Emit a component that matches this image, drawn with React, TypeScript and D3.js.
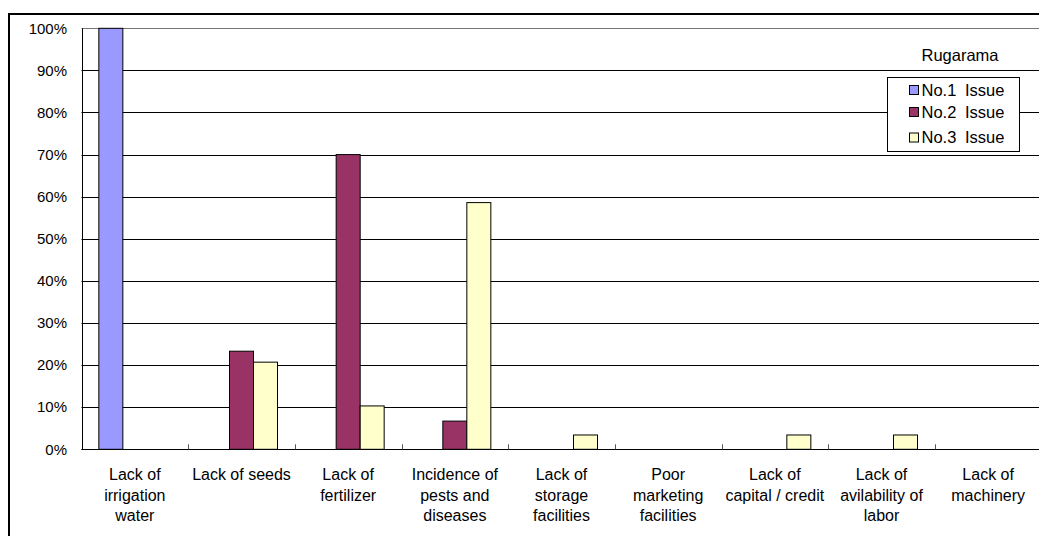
import React from "react";
import * as d3 from "d3";

const categories: string[][] = [
  ["Lack of", "irrigation", "water"],
  ["Lack of seeds"],
  ["Lack of", "fertilizer"],
  ["Incidence of", "pests and", "diseases"],
  ["Lack of", "storage", "facilities"],
  ["Poor", "marketing", "facilities"],
  ["Lack of", "capital / credit"],
  ["Lack of", "avilability of", "labor"],
  ["Lack of", "machinery"],
];
const seriesNames = ["No.1 Issue", "No.2 Issue", "No.3 Issue"];
const issue1 = [1.0, 0, 0, 0, 0, 0, 0, 0, 0];
const issue2 = [0, 0.233, 0.7, 0.067, 0, 0, 0, 0, 0];
const issue3 = [0, 0.207, 0.103, 0.586, 0.034, 0, 0.034, 0.034, 0];
const yTicks = [0, 0.1, 0.2, 0.3, 0.4, 0.5, 0.6, 0.7, 0.8, 0.9, 1.0];
const legendTitle = "Rugarama";
const colors = ["#9999FF", "#993366", "#FFFFCC"];

const W = 1039;
const H = 536;
const left = 81.5;
const right = 1041.5;
const top = 28.3;
const bottom = 449.3;
const font = "'Liberation Sans', Arial, sans-serif";

export default function App() {
  const keys = categories.map((_, i) => String(i));
  const x = d3.scaleBand<string>().domain(keys).range([left, right]).padding(0);
  const bw = x.bandwidth();
  const gw = bw * 0.675;
  const x1 = d3
    .scaleBand<string>()
    .domain(seriesNames)
    .range([(bw - gw) / 2, (bw + gw) / 2])
    .padding(0);
  const y = d3.scaleLinear().domain([0, 1]).range([bottom, top]);
  const seriesValues = [issue1, issue2, issue3];
  const fmt = d3.format(".0%");
  const snap = (v: number) => Math.round(v) + 0.5;

  return (
    <svg
      width={W}
      height={H}
      style={{ position: "absolute", left: 0, top: 0, display: "block", background: "#fff" }}
      fontFamily={font}
    >
      <rect x={0} y={0} width={W} height={H} fill="#fff" />
      {/* chart area border */}
      <rect x={9} y={14} width={W + 20} height={H + 20} fill="none" stroke="#000" strokeWidth={2} />
      {/* gridlines */}
      {yTicks.map((t) => (
        <line
          key={"g" + t}
          x1={left}
          x2={right}
          y1={snap(y(t))}
          y2={snap(y(t))}
          stroke={t === 1 ? "#777" : "#000"}
          strokeWidth={1}
        />
      ))}
      {/* y labels */}
      {yTicks.map((t) => (
        <text
          key={"yl" + t}
          x={67}
          y={y(t)}
          dy="0.35em"
          textAnchor="end"
          fontSize={15}
          fill="#000"
        >
          {fmt(t)}
        </text>
      ))}
      {/* bars */}
      {keys.map((k, ci) =>
        seriesNames.map((s, si) => {
          const v = seriesValues[si][ci];
          if (!v) return null;
          const bx = (x(k) as number) + (x1(s) as number);
          return (
            <rect
              key={k + s}
              x={bx}
              y={y(v)}
              width={x1.bandwidth()}
              height={bottom - y(v)}
              fill={colors[si]}
              stroke="#000"
              strokeWidth={1}
            />
          );
        })
      )}
      {/* axes */}
      <line x1={snap(left)} x2={snap(left)} y1={top} y2={bottom} stroke="#000" />
      <line x1={left} x2={right} y1={snap(bottom)} y2={snap(bottom)} stroke="#000" />
      {keys.slice(1).map((k) => (
        <line
          key={"t" + k}
          x1={snap(x(k) as number)}
          x2={snap(x(k) as number)}
          y1={bottom - 5}
          y2={bottom}
          stroke="#555"
        />
      ))}
      {/* x labels */}
      {keys.map((k, ci) => (
        <text
          key={"xl" + k}
          x={(x(k) as number) + bw / 2}
          y={480}
          textAnchor="middle"
          fontSize={16}
          fill="#000"
        >
          {categories[ci].map((line, li) => (
            <tspan key={li} x={(x(k) as number) + bw / 2} dy={li === 0 ? 0 : 20.5}>
              {line}
            </tspan>
          ))}
        </text>
      ))}
      {/* legend */}
      <text x={960} y={61} textAnchor="middle" fontSize={16.5} fill="#000">
        {legendTitle}
      </text>
      <rect x={887.5} y={77.5} width={132} height={74} fill="#fff" stroke="#000" strokeWidth={1} />
      {seriesNames.map((s, si) => {
        const cy = [90, 112, 137.5][si];
        return (
          <g key={"lg" + s}>
            <rect x={909.5} y={cy - 4.5} width={9} height={9} fill={colors[si]} stroke="#000" strokeWidth={1} />
            <text x={921.5} y={cy} dy="0.36em" fontSize={16.5} fill="#000" style={{ wordSpacing: "4px" }}>
              {s}
            </text>
          </g>
        );
      })}
    </svg>
  );
}
